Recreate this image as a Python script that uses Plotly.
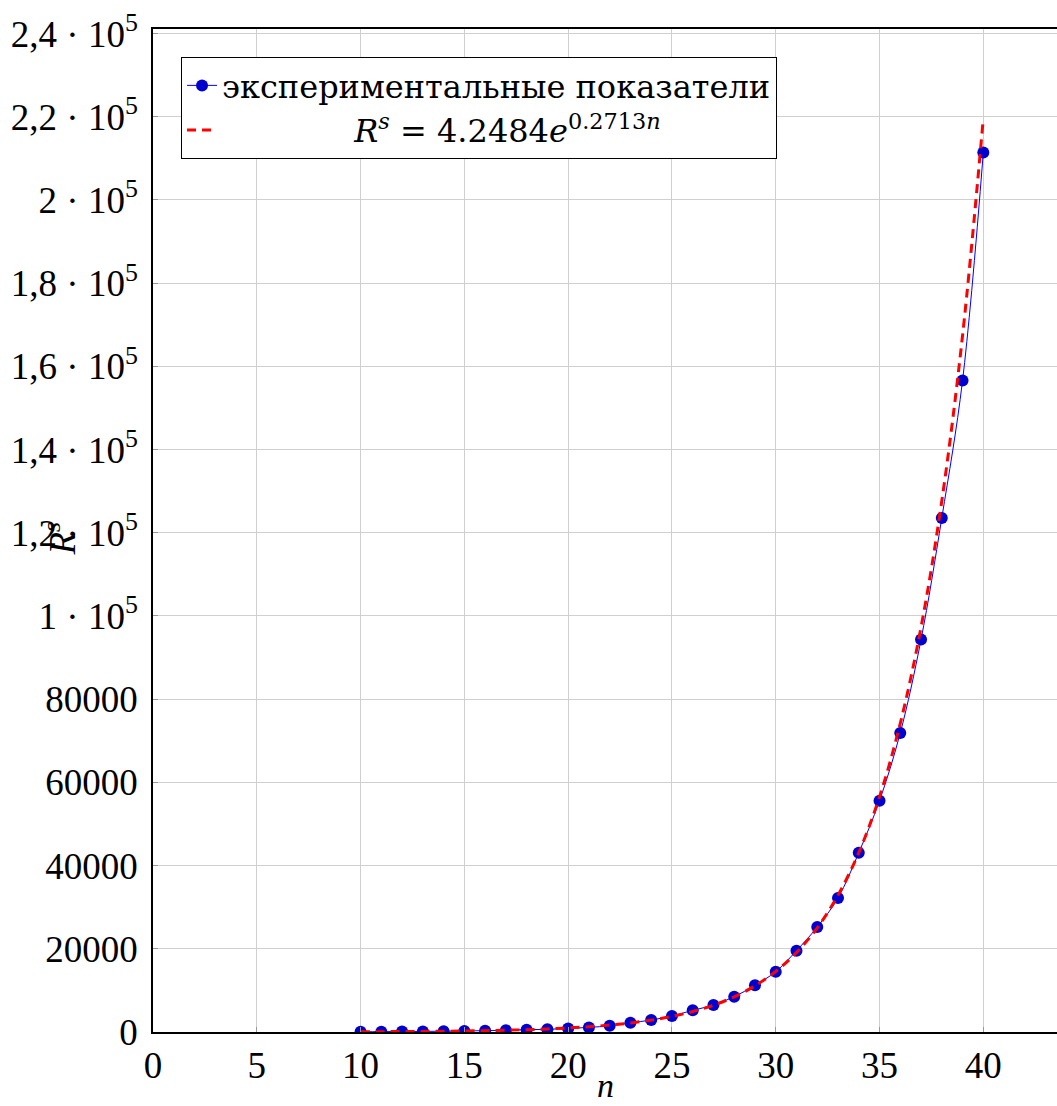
import plotly.graph_objects as go

n_vals = list(range(10, 41))
rs_measured = [60, 80, 110, 140, 190, 240, 330, 420, 550, 650, 850, 1100, 1500, 2200,
               2880, 3850, 5210, 6490, 8490, 11220, 14500, 19550, 25240, 32210, 43100,
               55600, 71900, 94330, 123550, 156600, 211400]
rs_fit = [64, 84, 110, 145, 190, 249, 326, 428, 561, 736, 965, 1266, 1661, 2179,
          2858, 3749, 4918, 6451, 8462, 11100, 14560, 19100, 25053, 32865, 43110,
          56550, 74180, 97300, 127640, 167430, 219630]

x_ticks = [0, 5, 10, 15, 20, 25, 30, 35, 40]
y_ticks = [0, 20000, 40000, 60000, 80000, 100000, 120000, 140000, 160000, 180000,
           200000, 220000, 240000]
y_ticktext = ["0", "20000", "40000", "60000", "80000",
              "1 · 10<sup>5</sup>", "1,2 · 10<sup>5</sup>", "1,4 · 10<sup>5</sup>",
              "1,6 · 10<sup>5</sup>", "1,8 · 10<sup>5</sup>", "2 · 10<sup>5</sup>",
              "2,2 · 10<sup>5</sup>", "2,4 · 10<sup>5</sup>"]

FONT = "Liberation Serif"
LEGFONT = "DejaVu Serif"

fig = go.Figure()
fig.add_trace(go.Scatter(
    x=n_vals, y=rs_measured, mode="lines+markers",
    line=dict(color="#0000ff", width=1, shape="spline"),
    marker=dict(color="#0000d0", size=12, line=dict(width=0)),
    name="экспериментальные показатели"))
fig.add_trace(go.Scatter(
    x=n_vals, y=rs_fit, mode="lines",
    line=dict(color="#ff0000", width=3, dash="9px,6px", shape="spline"),
    name="             <i>R</i><sup><i>s</i></sup> = 4.2484<i>e</i><sup>0.2713<i>n</i></sup>"))

fig.update_layout(
    width=1057, height=1106,
    margin=dict(l=153, r=0, t=29, b=74),
    plot_bgcolor="white", paper_bgcolor="white",
    font=dict(family=FONT, size=37, color="black"),
    showlegend=True,
    legend=dict(x=0.031, y=0.972, xanchor="left", yanchor="top",
                bordercolor="black", borderwidth=1, bgcolor="white",
                font=dict(family=LEGFONT, size=32), itemwidth=30,
                tracegroupgap=0),
    xaxis=dict(range=[0, 43.55], tickvals=x_ticks, showgrid=True,
               gridcolor="#cfcfcf", gridwidth=1, showline=True,
               linecolor="black", linewidth=1.5, mirror=True,
               ticks="inside", ticklen=5, tickcolor="#999999",
               zeroline=False, tickfont=dict(size=37)),
    yaxis=dict(range=[0, 241100], tickvals=y_ticks, ticktext=y_ticktext,
               showgrid=True, gridcolor="#cfcfcf", gridwidth=1, showline=True,
               linecolor="black", linewidth=1.5, mirror=False,
               ticks="inside", ticklen=5, tickcolor="#999999",
               ticklabelstandoff=6, ticklabeloverflow="allow",
               zeroline=False, tickfont=dict(size=37)),
    annotations=[
        dict(text="<i>n</i>", xref="paper", yref="paper", x=0.5, y=0,
             xshift=0, yshift=-53, showarrow=False, font=dict(size=34),
             xanchor="center", yanchor="middle", borderpad=0),
        dict(text="<i>R</i><sup><i>s</i></sup>", xref="paper", yref="paper",
             x=0, y=0.5, xshift=-93, yshift=-8, textangle=-90, showarrow=False,
             font=dict(size=37), xanchor="center", yanchor="middle"),
    ],
)

fig.write_html(
    "out.html",
    config={"displayModeBar": False},
    post_script="document.body.style.margin='0';"
                "document.documentElement.style.overflow='hidden';"
                "document.body.style.overflow='hidden';")
